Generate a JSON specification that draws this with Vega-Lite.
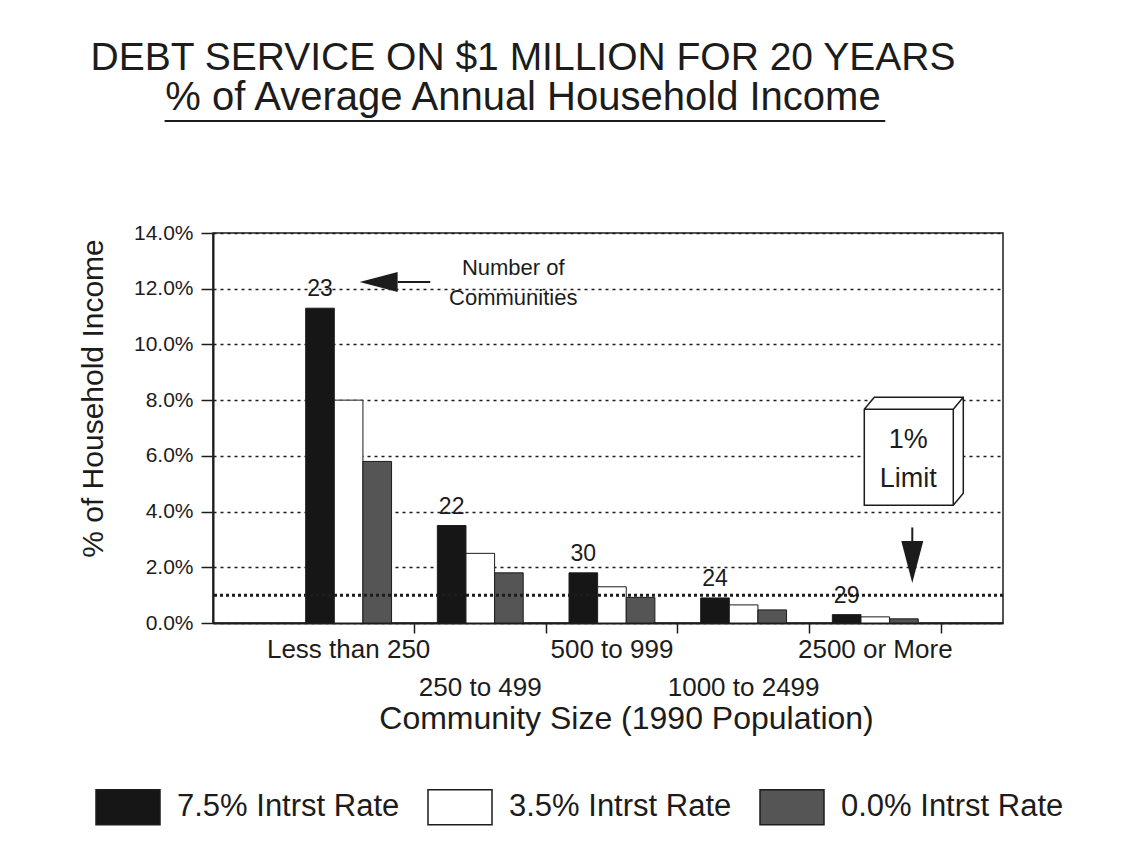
{
  "$schema": "https://vega.github.io/schema/vega-lite/v6.json",
  "width": 790,
  "height": 390,
  "autosize": {"type": "none"},
  "padding": {"left": 213, "top": 233, "right": 122, "bottom": 236},
  "background": "white",
  "title": {
    "text": "DEBT SERVICE ON $1 MILLION FOR 20 YEARS",
    "subtitle": "% of Average Annual Household Income",
    "anchor": "middle",
    "frame": "group",
    "dx": -85,
    "offset": 2,
    "fontSize": 39,
    "font": "Liberation Sans",
    "fontWeight": "normal",
    "color": "#1c1c1c",
    "subtitleFontSize": 40,
    "subtitleFont": "Liberation Sans",
    "subtitleColor": "#1c1c1c",
    "subtitlePadding": 0
  },
  "config": {
    "font": "Liberation Sans",
    "view": {"stroke": "#1c1c1c", "strokeWidth": 1.5},
    "legend": {
      "orient": "none",
      "legendX": -118,
      "legendY": 541,
      "direction": "horizontal",
      "symbolType": "M-1,-0.547H1V0.547H-1Z",
      "symbolSize": 4096,
      "symbolStrokeColor": "#1c1c1c",
      "symbolStrokeWidth": 1.5,
      "labelFontSize": 31,
      "labelFont": "Liberation Sans",
      "labelColor": "#1c1c1c",
      "labelOffset": 16,
      "columnPadding": 25,
      "padding": 0,
      "labelLimit": 400
    }
  },
  "data": {
    "values": [
      {"size": "Less than 250", "rate": "7.5% Intrst Rate", "pct": 11.3, "communities": 23},
      {"size": "Less than 250", "rate": "3.5% Intrst Rate", "pct": 8.0, "communities": 23},
      {"size": "Less than 250", "rate": "0.0% Intrst Rate", "pct": 5.8, "communities": 23},
      {"size": "250 to 499", "rate": "7.5% Intrst Rate", "pct": 3.5, "communities": 22},
      {"size": "250 to 499", "rate": "3.5% Intrst Rate", "pct": 2.5, "communities": 22},
      {"size": "250 to 499", "rate": "0.0% Intrst Rate", "pct": 1.8, "communities": 22},
      {"size": "500 to 999", "rate": "7.5% Intrst Rate", "pct": 1.8, "communities": 30},
      {"size": "500 to 999", "rate": "3.5% Intrst Rate", "pct": 1.3, "communities": 30},
      {"size": "500 to 999", "rate": "0.0% Intrst Rate", "pct": 0.92, "communities": 30},
      {"size": "1000 to 2499", "rate": "7.5% Intrst Rate", "pct": 0.9, "communities": 24},
      {"size": "1000 to 2499", "rate": "3.5% Intrst Rate", "pct": 0.65, "communities": 24},
      {"size": "1000 to 2499", "rate": "0.0% Intrst Rate", "pct": 0.47, "communities": 24},
      {"size": "2500 or More", "rate": "7.5% Intrst Rate", "pct": 0.3, "communities": 29},
      {"size": "2500 or More", "rate": "3.5% Intrst Rate", "pct": 0.22, "communities": 29},
      {"size": "2500 or More", "rate": "0.0% Intrst Rate", "pct": 0.15, "communities": 29}
    ]
  },
  "layer": [
    {
      "mark": {"type": "bar", "stroke": "#1c1c1c", "strokeWidth": 1},
      "encoding": {
        "x": {
          "field": "size",
          "type": "nominal",
          "scale": {
            "domain": ["Less than 250", "250 to 499", "500 to 999", "1000 to 2499", "2500 or More"],
            "paddingInner": 0,
            "paddingOuter": 0.5,
            "align": 0.53
          },
          "axis": {
            "title": "Community Size (1990 Population)",
            "bandPosition": 1,
            "labelAngle": 0,
            "labelFontSize": 26,
            "labelFont": "Liberation Sans",
            "labelColor": "#1c1c1c",
            "labelPadding": 3,
            "labelBaseline": "top",
            "labelLineHeight": 38,
            "labelOverlap": false,
            "labelBound": false,
            "labelExpr": "(datum.value === '250 to 499' || datum.value === '1000 to 2499') ? ['', datum.value] : datum.value",
            "tickSize": 10,
            "tickWidth": 1.5,
            "tickColor": "#1c1c1c",
            "domainColor": "#1c1c1c",
            "domainWidth": 2,
            "grid": false,
            "titleFontSize": 32,
            "titleFont": "Liberation Sans",
            "titleFontWeight": "normal",
            "titleColor": "#1c1c1c",
            "titlePadding": 3,
            "titleX": 413
          }
        },
        "xOffset": {
          "field": "rate",
          "type": "nominal",
          "scale": {
            "domain": ["7.5% Intrst Rate", "3.5% Intrst Rate", "0.0% Intrst Rate"],
            "paddingOuter": 0.8,
            "paddingInner": 0
          }
        },
        "y": {
          "field": "pct",
          "type": "quantitative",
          "scale": {"domain": [0, 14]},
          "axis": {
            "title": "% of Household Income",
            "values": [0, 2, 4, 6, 8, 10, 12, 14],
            "labelExpr": "format(datum.value, '.1f') + '%'",
            "labelFontSize": 21,
            "labelFont": "Liberation Sans",
            "labelColor": "#1c1c1c",
            "labelPadding": 8,
            "tickSize": 12,
            "tickWidth": 1.5,
            "tickColor": "#1c1c1c",
            "domainColor": "#1c1c1c",
            "domainWidth": 2,
            "grid": true,
            "gridColor": "#1c1c1c",
            "gridDash": [3, 4],
            "gridWidth": 1.5,
            "titleFontSize": 30,
            "titleFont": "Liberation Sans",
            "titleFontWeight": "normal",
            "titleColor": "#1c1c1c",
            "titlePadding": 25,
            "titleY": 165
          }
        },
        "color": {
          "field": "rate",
          "type": "nominal",
          "scale": {
            "domain": ["7.5% Intrst Rate", "3.5% Intrst Rate", "0.0% Intrst Rate"],
            "range": ["#161616", "#ffffff", "#555555"]
          },
          "legend": {"title": null}
        }
      }
    },
    {
      "transform": [{"filter": "datum.rate === '7.5% Intrst Rate'"}],
      "mark": {"type": "text", "fontSize": 23, "baseline": "middle", "dy": -19, "color": "#1c1c1c"},
      "encoding": {
        "x": {"field": "size", "type": "nominal"},
        "xOffset": {"field": "rate", "type": "nominal"},
        "y": {"field": "pct", "type": "quantitative"},
        "text": {"field": "communities", "type": "quantitative"}
      }
    },
    {
      "data": {"values": [{"limit": 1}]},
      "mark": {"type": "rule", "strokeWidth": 3, "strokeDash": [3, 3], "color": "#1c1c1c"},
      "encoding": {"y": {"field": "limit", "type": "quantitative"}}
    },
    {
      "data": {"values": [{}]},
      "mark": {"type": "rule", "strokeWidth": 2, "color": "#1c1c1c", "xOffset": 49, "x2Offset": -50},
      "encoding": {
        "x": {"datum": "Less than 250", "type": "nominal"},
        "x2": {"datum": "250 to 499"},
        "y": {"datum": 12.24, "type": "quantitative"}
      }
    },
    {
      "data": {"values": [{}]},
      "mark": {"type": "point", "shape": "M-1,0L1,-0.53L1,0.53Z", "filled": true, "size": 1444, "color": "#1c1c1c", "opacity": 1, "xOffset": 30},
      "encoding": {
        "x": {"datum": "Less than 250", "type": "nominal"},
        "y": {"datum": 12.24, "type": "quantitative"}
      }
    },
    {
      "data": {"values": [{}]},
      "mark": {"type": "text", "fontSize": 22, "lineHeight": 30, "baseline": "middle", "align": "center", "dx": 33, "color": "#1c1c1c", "text": ["Number of", "Communities"]},
      "encoding": {
        "x": {"datum": "250 to 499", "type": "nominal"},
        "y": {"datum": 12.74, "type": "quantitative"}
      }
    },
    {
      "data": {"values": [{}]},
      "mark": {
        "type": "point",
        "shape": "M-1,-1.08L-0.775,-1.35L1.225,-1.35L1.225,0.81L1,1.08L-1,1.08ZM-1,-1.08L1,-1.08L1,1.08M1,-1.08L1.225,-1.35",
        "filled": true,
        "fill": "white",
        "stroke": "#1c1c1c",
        "strokeWidth": 1.5,
        "size": 7921,
        "opacity": 1,
        "xOffset": 33.5
      },
      "encoding": {
        "x": {"datum": "2500 or More", "type": "nominal"},
        "y": {"datum": 5.95, "type": "quantitative"}
      }
    },
    {
      "data": {"values": [{}]},
      "mark": {"type": "text", "fontSize": 27, "lineHeight": 39, "baseline": "middle", "align": "center", "dx": 33, "color": "#1c1c1c", "text": ["1%", "Limit"]},
      "encoding": {
        "x": {"datum": "2500 or More", "type": "nominal"},
        "y": {"datum": 6.57, "type": "quantitative"}
      }
    },
    {
      "data": {"values": [{}]},
      "mark": {"type": "rule", "strokeWidth": 2, "color": "#1c1c1c", "xOffset": 37},
      "encoding": {
        "x": {"datum": "2500 or More", "type": "nominal"},
        "y": {"datum": 3.43, "type": "quantitative"},
        "y2": {"datum": 2.62}
      }
    },
    {
      "data": {"values": [{}]},
      "mark": {"type": "point", "shape": "M-1,-1.91L1,-1.91L0,1.91Z", "filled": true, "size": 484, "color": "#1c1c1c", "opacity": 1, "xOffset": 37},
      "encoding": {
        "x": {"datum": "2500 or More", "type": "nominal"},
        "y": {"datum": 2.19, "type": "quantitative"}
      }
    },
    {
      "data": {"values": [{}]},
      "mark": {"type": "rule", "strokeWidth": 2, "color": "#1c1c1c", "xOffset": -184, "x2Offset": 10, "clip": false},
      "encoding": {
        "x": {"datum": "Less than 250", "type": "nominal"},
        "x2": {"datum": "2500 or More"},
        "y": {"datum": 18.02, "type": "quantitative"}
      }
    }
  ]
}
